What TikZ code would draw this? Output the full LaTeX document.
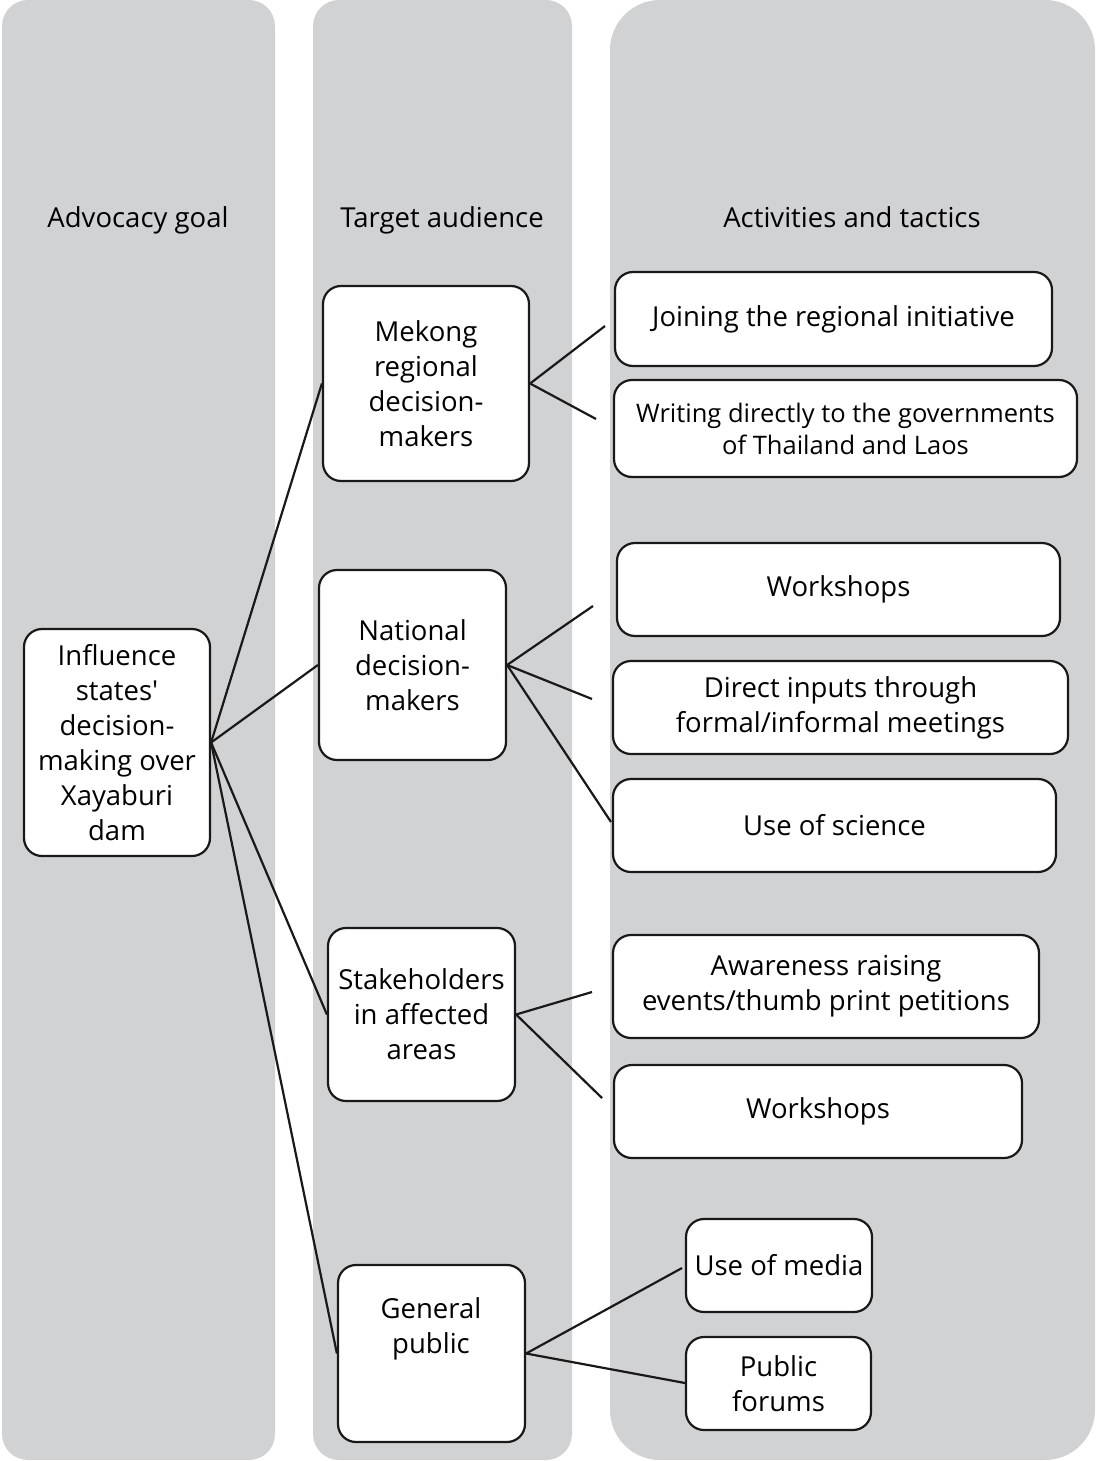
\documentclass[tikz,border=0pt]{standalone}
\usepackage{fontspec}
\setmainfont{Open Sans}
\definecolor{colgray}{HTML}{D1D2D4}
\begin{document}
\begin{tikzpicture}[x=1pt,y=-1pt,
  colbg/.style={fill=colgray,draw=none},
  header/.style={font=\fontsize{27.5}{35}\selectfont,inner sep=0pt,anchor=base},
  box/.style={draw=black!90,fill=white,line width=2.2pt,rounded corners=18pt,align=center,
    font=\fontsize{27.5}{35}\selectfont,inner sep=0pt},
  smalltext/.style={font=\fontsize{25.5}{32}\selectfont},
  plain/.style={align=center,font=\fontsize{27.5}{35}\selectfont,inner sep=0pt},
  conn/.style={line width=2.2pt,draw=black!90}]
\useasboundingbox (0,0) rectangle (1096,1461);
% background columns
\fill[colbg,rounded corners=26pt] (2,0) rectangle (275,1460);
\fill[colbg,rounded corners=26pt] (313,0) rectangle (572,1460);
\fill[colbg,rounded corners=50pt] (610,0) rectangle (1095,1460);
% headers
\node[header] (h1) at (138,227) {Advocacy goal};
\node[header] (h2) at (442,227) {Target audience};
\node[header] (h3) at (852,227) {Activities and tactics};
% goal
\node[box,minimum width=186pt,minimum height=227pt] (goal) at (117,742.5)
  {Influence\\states\textquotesingle\\decision-\\making over\\Xayaburi\\dam};
% audiences
\node[box,minimum width=206pt,minimum height=195pt] (mekong) at (426,383.5)
  {Mekong\\regional\\decision-\\makers};
\node[box,minimum width=187pt,minimum height=190pt] (national) at (412.5,665)
  {National\\decision-\\makers};
\node[box,minimum width=187pt,minimum height=173pt] (stake) at (421.5,1014.5)
  {Stakeholders\\in affected\\areas};
\node[box,minimum width=187pt,minimum height=177pt] (public) at (431.5,1353.5) {};
\node[plain] (publictext) at (431,1329) {General\\public};
% activities
\node[box,minimum width=437pt,minimum height=94pt] (a1) at (833.5,319) {Joining the regional initiative};
\node[box,smalltext,minimum width=463pt,minimum height=97pt] (a2) at (845.5,428.5)
  {Writing directly to the governments\\of Thailand and Laos};
\node[box,minimum width=443pt,minimum height=93pt] (a3) at (838.5,589.5) {Workshops};
\node[box,minimum width=455pt,minimum height=93pt] (a4) at (840.5,707.5)
  {Direct inputs through\\formal/informal meetings};
\node[box,minimum width=443pt,minimum height=93pt] (a5) at (834.5,825.5) {Use of science};
\node[box,minimum width=426pt,minimum height=103pt] (a6) at (826,986.5)
  {Awareness raising\\events/thumb print petitions};
\node[box,minimum width=408pt,minimum height=93pt] (a7) at (818,1111.5) {Workshops};
\node[box,minimum width=186pt,minimum height=93pt] (a8) at (779,1265.5) {Use of media};
\node[box,minimum width=185pt,minimum height=93pt] (a9) at (778.5,1383.5) {Public\\forums};
% free line ends
\coordinate (m1) at (605,326);
\coordinate (m2) at (596,419);
\coordinate (n1) at (593,606);
\coordinate (n2) at (592,699);
\coordinate (n3) at (611,822);
\coordinate (s1) at (592,992);
\coordinate (s2) at (602,1098);
\coordinate (p1) at (682,1268);
\coordinate (p2) at (685,1383);
% connectors
\draw[conn] (goal.east) -- (mekong.west);
\draw[conn] (goal.east) -- (national.west);
\draw[conn] (goal.east) -- (stake.west);
\draw[conn] (goal.east) -- (public.west);
\draw[conn] (mekong.east) -- (m1);
\draw[conn] (mekong.east) -- (m2);
\draw[conn] (national.east) -- (n1);
\draw[conn] (national.east) -- (n2);
\draw[conn] (national.east) -- (n3);
\draw[conn] (stake.east) -- (s1);
\draw[conn] (stake.east) -- (s2);
\draw[conn] (public.east) -- (p1);
\draw[conn] (public.east) -- (p2);
\end{tikzpicture}
\end{document}
